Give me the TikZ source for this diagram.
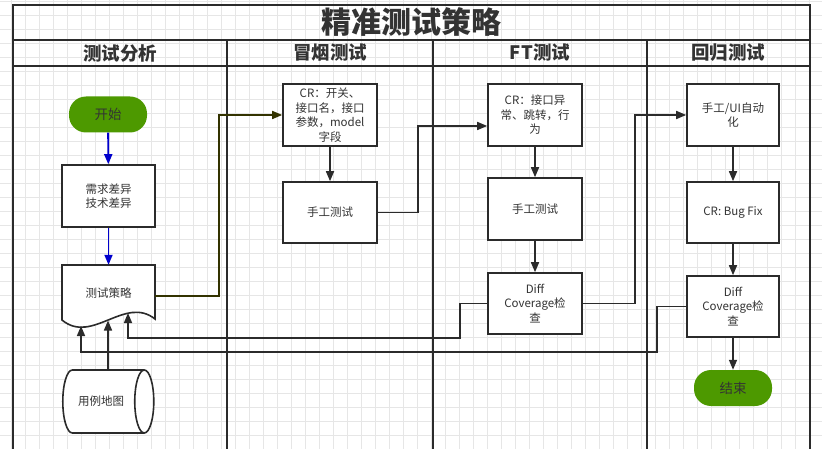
\documentclass[tikz,border=0pt]{standalone}
\usepackage{fontspec}
\setmainfont{Noto Sans CJK SC}
\usetikzlibrary{arrows.meta,shapes.geometric}
\definecolor{gridc}{HTML}{E6E6E6}
\definecolor{linec}{HTML}{2B2B2B}
\definecolor{txtc}{HTML}{333333}
\definecolor{greenc}{HTML}{4D9900}
\definecolor{bluec}{HTML}{0000CC}
\definecolor{olivec}{HTML}{333300}
\begin{document}
\begin{tikzpicture}[x=1pt,y=-1pt,
  box/.style={draw=linec, line width=1.6pt, fill=white, minimum width=94pt, minimum height=62pt, inner sep=2pt, align=center, text=txtc, font=\fontsize{11.5}{14.5}\selectfont},
  term/.style={fill=greenc, rounded corners=17pt, minimum width=78pt, minimum height=36pt, text=txtc, font=\fontsize{13.5}{14}\selectfont},
  arr/.style={draw=linec, line width=1.6pt, -{Triangle[length=10pt,width=8pt]}},
  barr/.style={draw=bluec, line width=1.8pt, -{Triangle[length=10pt,width=8pt]}},
  oarr/.style={draw=olivec, line width=1.6pt, -{Triangle[length=10pt,width=8pt]}},
  frame/.style={draw=linec, line width=1.8pt},
  head/.style={text=txtc, font=\bfseries\fontsize{18.5}{18.5}\selectfont}
]
\useasboundingbox (0,0) rectangle (822,449);
\fill[white] (0,0) rectangle (822,449);
\begin{scope}
\clip (0,0) rectangle (822,449);
\foreach \x in {11,25,...,821} \draw[gridc, line width=0.6pt] (\x,0) -- (\x,449);
\foreach \y in {1,15,...,449} \draw[gridc, line width=0.6pt] (0,\y) -- (822,\y);
\draw[frame] (13,5) rectangle (810,470);
\draw[frame] (13,40) -- (810,40);
\draw[frame] (13,66) -- (810,66);
\draw[frame] (227,40) -- (227,470);
\draw[frame] (433,40) -- (433,470);
\draw[frame] (647,40) -- (647,470);
\end{scope}

\node[text=txtc, font=\bfseries\fontsize{30}{30}\selectfont] (title) at (411,22) {精准测试策略};
\node[head] (h1) at (120,53) {测试分析};
\node[head] (h2) at (330,53) {冒烟测试};
\node[head] (h3) at (540,53) {FT测试};
\node[head] (h4) at (728,53) {回归测试};

% column 1
\node[term] (start) at (108,114.5) {开始};
\node[box, minimum width=93pt] (req) at (108.5,196) {需求差异\\技术差异};
\node[minimum width=93pt, minimum height=62pt, inner sep=0pt] (strat) at (108.5,296) {};
\draw[draw=linec, line width=1.6pt, fill=white] (62,265) -- (155,265) -- (155,319)
  .. controls (125,295) and (92,345) .. (62,320) -- cycle;
\node[text=txtc, font=\fontsize{11.5}{14}\selectfont] (stratt) at (108.5,293) {测试策略};
\node[cylinder, draw=linec, line width=1.6pt, fill=white, minimum width=63pt, minimum height=91pt, shape aspect=1.1, text=txtc, font=\fontsize{11.5}{14}\selectfont] (cyl) at (101,401.5) {用例地图};

% column 2
\node[box] (cr1) at (330,115) {CR：开关、\\接口名，接口\\参数，model\\字段};
\node[box, minimum height=61pt] (tc1) at (330,212.5) {手工测试};

% column 3
\node[box] (cr2) at (535,115) {CR：接口异\\常、跳转，行\\为};
\node[box] (tc2) at (535,209) {手工测试};
\node[box, minimum height=61pt] (diff1) at (535,303.5) {Diff\\Coverage检\\查};

% column 4
\node[box, minimum width=92pt] (man4) at (733,115) {手工/UI自动\\化};
\node[box, minimum width=92pt, minimum height=61pt] (bug) at (733,212.5) {CR: Bug Fix};
\node[box, minimum width=92pt, minimum height=61pt] (diff2) at (733,306.5) {Diff\\Coverage检\\查};
\node[term] (end) at (733,388) {结束};

% coordinates on the wavy bottom of the document shape
\coordinate (w1) at (81,326);
\coordinate (w2) at (108,320.5);
\coordinate (w3) at (128,313);

% connectors
\draw[barr] (start) -- (req);
\draw[barr] (req) -- (strat.north);
\draw[oarr] (strat.east) -- ++(64,0) |- (cr1.west);
\draw[arr] (cr1) -- (tc1);
\draw[arr] (tc1.east) -- ++(40,0) |- ([yshift=-11pt]cr2.west);
\draw[arr] (cr2) -- (tc2);
\draw[arr] (tc2) -- (diff1);
\draw[arr] (diff1.east) -- ++(52,0) |- (man4.west);
\draw[arr] (man4) -- (bug);
\draw[arr] (bug) -- (diff2);
\draw[arr] (diff2) -- (end);
\draw[arr] (diff1.west) -- ++(-27,0) |- (128,338) -- (w3);
\draw[arr] (diff2.west) -- ++(-29,0) |- (81,352) -- (w1);
\draw[arr] (cyl.north -| w2) -- (w2);
\end{tikzpicture}
\end{document}
